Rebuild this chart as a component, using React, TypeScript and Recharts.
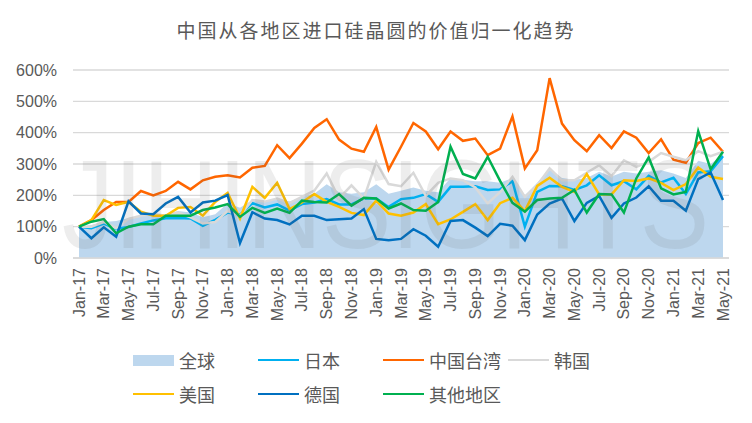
import * as React from 'react';
import { ComposedChart, Area, Line, XAxis, YAxis, CartesianGrid } from 'recharts';

const MONTHS = [
    'Jan-17', 'Feb-17', 'Mar-17', 'Apr-17', 'May-17', 'Jun-17', 'Jul-17', 'Aug-17', 'Sep-17', 'Oct-17', 'Nov-17', 'Dec-17',
    'Jan-18', 'Feb-18', 'Mar-18', 'Apr-18', 'May-18', 'Jun-18', 'Jul-18', 'Aug-18', 'Sep-18', 'Oct-18', 'Nov-18', 'Dec-18',
    'Jan-19', 'Feb-19', 'Mar-19', 'Apr-19', 'May-19', 'Jun-19', 'Jul-19', 'Aug-19', 'Sep-19', 'Oct-19', 'Nov-19', 'Dec-19',
    'Jan-20', 'Feb-20', 'Mar-20', 'Apr-20', 'May-20', 'Jun-20', 'Jul-20', 'Aug-20', 'Sep-20', 'Oct-20', 'Nov-20', 'Dec-20',
    'Jan-21', 'Feb-21', 'Mar-21', 'Apr-21', 'May-21',
];

// values in % (Jan-17 = 100)
const GLOBAL = [100, 105, 115, 118, 128, 135, 137, 140, 150, 145, 130, 140, 175, 160, 185, 180, 190, 180, 195, 205, 235, 210, 205, 210, 235, 205, 215, 225, 215, 210, 255, 250, 245, 245, 240, 255, 200, 240, 285, 255, 250, 255, 275, 260, 275, 270, 275, 280, 270, 255, 310, 300, 330];
const JAPAN = [100, 95, 110, 93, 99, 110, 120, 127, 128, 126, 103, 122, 145, 138, 175, 161, 171, 151, 172, 177, 188, 171, 171, 190, 190, 163, 188, 192, 204, 179, 227, 227, 229, 217, 219, 245, 100, 211, 230, 229, 217, 232, 264, 232, 245, 219, 262, 241, 256, 204, 273, 277, 325];
const TAIWAN = [100, 121, 153, 179, 179, 214, 200, 214, 243, 219, 248, 259, 264, 257, 288, 294, 360, 319, 365, 415, 443, 378, 349, 339, 418, 282, 355, 431, 404, 347, 404, 374, 381, 328, 349, 452, 286, 344, 574, 429, 376, 341, 392, 351, 404, 384, 335, 379, 314, 304, 367, 384, 339];
const KOREA = [100, 100, 115, 95, 125, 135, 140, 135, 145, 130, 110, 115, 150, 135, 185, 180, 190, 175, 195, 215, 270, 190, 232, 190, 307, 236, 229, 272, 198, 240, 254, 248, 225, 174, 210, 259, 195, 232, 286, 248, 248, 272, 296, 261, 312, 291, 307, 335, 323, 312, 341, 325, 339];
const USA = [100, 121, 185, 169, 179, 148, 135, 135, 160, 163, 135, 179, 208, 126, 227, 192, 240, 156, 177, 204, 179, 163, 144, 137, 183, 142, 135, 145, 172, 108, 123, 147, 172, 121, 175, 192, 150, 230, 256, 227, 211, 268, 203, 203, 248, 246, 254, 240, 217, 236, 289, 259, 252];
const GERMANY = [100, 63, 98, 68, 181, 142, 140, 174, 195, 145, 177, 183, 201, 48, 146, 126, 121, 107, 135, 135, 121, 124, 126, 156, 61, 57, 61, 92, 71, 36, 118, 121, 97, 70, 109, 103, 57, 139, 174, 190, 118, 176, 198, 128, 174, 193, 229, 183, 183, 151, 252, 273, 185];
const OTHERS = [100, 116, 124, 79, 100, 108, 108, 135, 135, 135, 153, 161, 172, 131, 160, 144, 158, 144, 183, 179, 177, 204, 167, 192, 190, 158, 174, 153, 151, 179, 355, 268, 254, 323, 246, 176, 148, 185, 190, 192, 217, 145, 204, 203, 145, 254, 321, 222, 203, 211, 405, 283, 339];

const Y_TICKS = [0, 100, 200, 300, 400, 500, 600];

const LINES = [
    { key: 'japan', name: '日本', color: '#00B0F0' },
    { key: 'taiwan', name: '中国台湾', color: '#FF6600' },
    { key: 'korea', name: '韩国', color: '#D9D9D9' },
    { key: 'usa', name: '美国', color: '#FFC000' },
    { key: 'germany', name: '德国', color: '#0070C0' },
    { key: 'others', name: '其他地区', color: '#00B050' },
];

const data = MONTHS.map((month, i) => ({
    month,
    global: GLOBAL[i],
    japan: JAPAN[i],
    taiwan: TAIWAN[i],
    korea: KOREA[i],
    usa: USA[i],
    germany: GERMANY[i],
    others: OTHERS[i],
}));

const TEXT = '#595959';
const LATIN = '"Liberation Sans", "Noto Sans CJK SC", sans-serif';
const CJK = '"Noto Sans CJK SC", sans-serif';

const MonthTick = (props: any) => {
    const { x, y, payload } = props;
    return (
        <text x={x} y={y} transform={`rotate(-90 ${x} ${y})`} textAnchor="end" dominantBaseline="central"
            fill={TEXT} fontSize={16} fontFamily={LATIN}>
            {payload.value}
        </text>
    );
};

// legend: [name, color, kind, left, top]
const LEGEND: [string, string, 'area' | 'line', number, number][] = [
    ['全球', '#BDD7EE', 'area', 133, 360],
    ['日本', '#00B0F0', 'line', 258, 360],
    ['中国台湾', '#FF6600', 'line', 383, 360],
    ['韩国', '#D9D9D9', 'line', 508, 360],
    ['美国', '#FFC000', 'line', 133, 394],
    ['德国', '#0070C0', 'line', 258, 394],
    ['其他地区', '#00B050', 'line', 383, 394],
];

const App: React.FC = () => {
    return (
        <div style={{ position: 'absolute', left: 0, top: 0, width: 752, height: 423, background: '#fff' }}>
            <div style={{
                position: 'absolute', top: 16, left: 0, width: 752, textAlign: 'center',
                fontFamily: CJK, fontSize: 19, letterSpacing: 2, color: TEXT, lineHeight: '28px',
            }}>
                中国从各地区进口硅晶圆的价值归一化趋势
            </div>

            <ComposedChart width={752} height={423} data={data} margin={{ top: 70, right: 23, left: 13, bottom: 95 }}>
                <CartesianGrid vertical={false} stroke="#D9D9D9" strokeWidth={1.3} />
                <XAxis dataKey="month" interval={1} tickLine={false} tickSize={0} tickMargin={10} height={70}
                    padding={{ left: 6, right: 6 }} axisLine={{ stroke: '#D9D9D9', strokeWidth: 1.5 }} tick={<MonthTick />} />
                <YAxis width={60} domain={[0, 600]} ticks={Y_TICKS} tickFormatter={(v: number) => `${v}%`}
                    axisLine={false} tickLine={false} tickSize={0} tickMargin={16}
                    tick={{ fill: TEXT, fontSize: 16, fontFamily: LATIN }} />
                <Area type="linear" dataKey="global" name="全球" stroke="none" fill="#BDD7EE" fillOpacity={1} isAnimationActive={false} />
                {LINES.map(s => (
                    <Line key={s.key} type="linear" dataKey={s.key} name={s.name} stroke={s.color} strokeWidth={2.5}
                        dot={false} isAnimationActive={false} />
                ))}
            </ComposedChart>

            {/* faint watermark */}
            <svg width={752} height={423} style={{ position: 'absolute', left: 0, top: 0, pointerEvents: 'none' }}>
                <text transform="translate(62 248) scale(1 1.21)" x={0} y={0} fontSize={104} fontFamily={LATIN}
                    fill="rgba(90,90,90,0.11)">
                    JIHINSIGHTS
                </text>
            </svg>

            {LEGEND.map(([name, color, kind, left, top]) => (
                <div key={name} style={{ position: 'absolute', left, top: top - 14, height: 28, display: 'flex', alignItems: 'center' }}>
                    <div style={{ width: 41, height: kind === 'area' ? 11 : 2.5, background: color }} />
                    <span style={{ marginLeft: 5, fontFamily: CJK, fontSize: 18, color: TEXT, lineHeight: '28px' }}>{name}</span>
                </div>
            ))}
        </div>
    );
};

export default App;
